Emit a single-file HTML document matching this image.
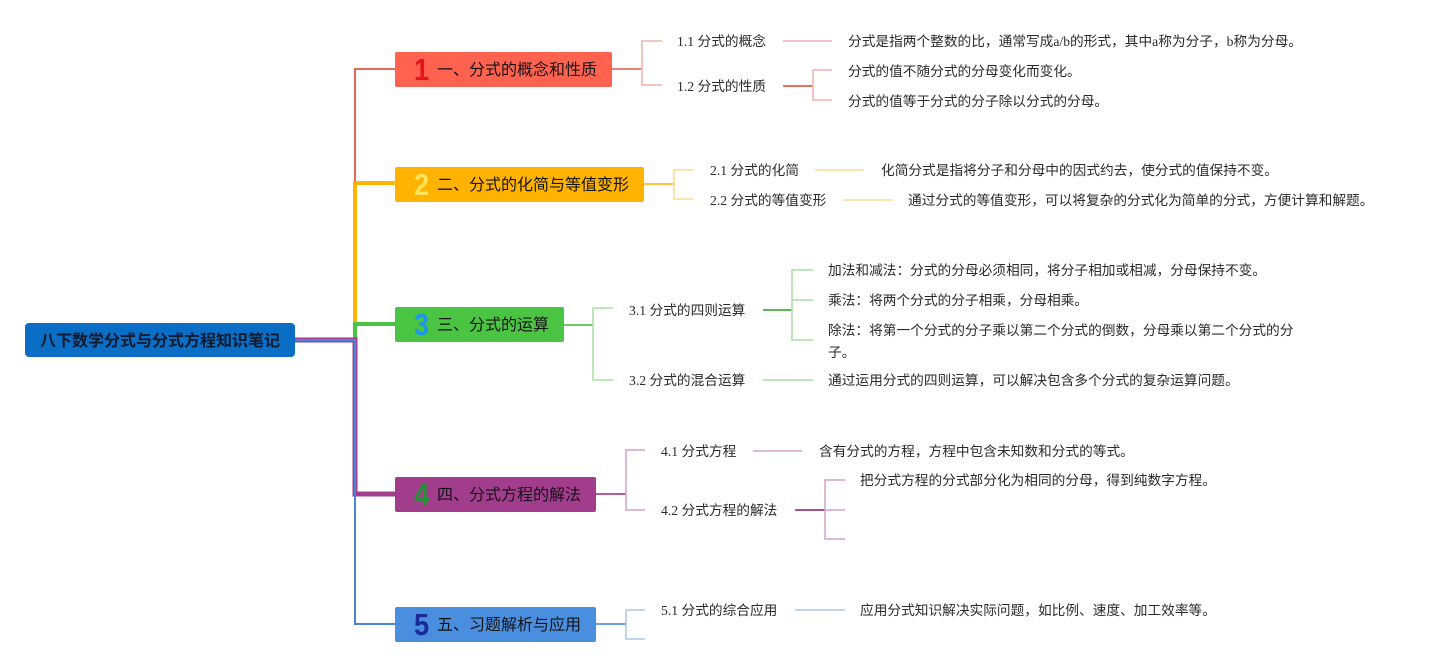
<!DOCTYPE html>
<html>
<head>
<meta charset="utf-8">
<style>
html,body{margin:0;padding:0;background:#fff;}
body{width:1444px;height:668px;position:relative;overflow:hidden;
font-family:"Liberation Sans","Noto Sans CJK SC",sans-serif;}
.box{position:absolute;border-radius:2px;}
.num{position:absolute;font-family:"Liberation Sans",sans-serif;font-weight:bold;font-size:31px;line-height:36px;height:36px;transform:scaleX(0.88);transform-origin:left center;}
.nt{position:absolute;font-size:16px;line-height:20px;color:#141414;white-space:nowrap;font-family:"Liberation Sans","Noto Sans CJK SC",sans-serif;}
.t{position:absolute;font-size:13.7px;line-height:20px;color:#2b2b2b;white-space:nowrap;font-family:"Liberation Serif","Noto Sans CJK SC",sans-serif;}
svg{position:absolute;left:0;top:0;}
</style>
</head>
<body>
<svg width="1444" height="668" viewBox="0 0 1444 668" fill="none">
  <!-- main connectors -->
  <path d="M295,340 H355 V69 H395" stroke="#E5685C" stroke-width="2"/>
  <path d="M295,340 H355 V183 H395" stroke="#FFB400" stroke-width="4"/>
  <path d="M295,340 H355 V324 H395" stroke="#4CC443" stroke-width="4"/>
  <path d="M295,340 H355 V494 H395" stroke="#A23C8C" stroke-width="5"/>
  <path d="M295,340 H355 V624 H395" stroke="#4A86D6" stroke-width="2"/>

  <!-- branch 1 -->
  <path d="M612,69 H642" stroke="#EB857B" stroke-width="2"/>
  <path d="M662,41 H642 V85 H662" stroke="#F4B0AA" stroke-width="1.5"/>
  <path d="M783,41 H832" stroke="#F4B0AA" stroke-width="1.5"/>
  <path d="M783,86 H813" stroke="#E86E62" stroke-width="2"/>
  <path d="M832,70 H813 V100 H832" stroke="#F4B0AA" stroke-width="1.5"/>

  <!-- branch 2 -->
  <path d="M644,184 H674" stroke="#FFC23A" stroke-width="2"/>
  <path d="M693,170 H674 V199 H693" stroke="#FBDB8E" stroke-width="1.5"/>
  <path d="M815,170 H864" stroke="#FBDB8E" stroke-width="1.5"/>
  <path d="M843,200 H893" stroke="#FBDB8E" stroke-width="1.5"/>

  <!-- branch 3 -->
  <path d="M564,325 H593" stroke="#6CCB62" stroke-width="2"/>
  <path d="M613,308 H593 V380 H613" stroke="#A9DFA2" stroke-width="1.5"/>
  <path d="M763,310 H792" stroke="#5CB852" stroke-width="2"/>
  <path d="M813,270 H792 V340 H813 M792,300 H813" stroke="#A9DFA2" stroke-width="1.5"/>
  <path d="M763,380 H813" stroke="#A9DFA2" stroke-width="1.5"/>

  <!-- branch 4 -->
  <path d="M596,494 H626" stroke="#B25C9E" stroke-width="2"/>
  <path d="M645,450 H626 V510 H645" stroke="#D3A2C8" stroke-width="1.5"/>
  <path d="M753,451 H802" stroke="#D3A2C8" stroke-width="1.5"/>
  <path d="M795,510 H825" stroke="#A8518F" stroke-width="2"/>
  <path d="M845,480 H825 V539 H845 M825,510 H845" stroke="#D3A2C8" stroke-width="1.5"/>

  <!-- branch 5 -->
  <path d="M596,624 H626" stroke="#6C9FDD" stroke-width="2"/>
  <path d="M645,610 H626 V639 H645" stroke="#A8C5E6" stroke-width="1.5"/>
  <path d="M795,610 H845" stroke="#A8C5E6" stroke-width="1.5"/>
</svg>

<!-- root -->
<div class="box" style="left:25px;top:323px;width:270px;height:34px;background:#0A6EC6;border-radius:4px;"></div>
<div class="nt" style="left:40px;top:332px;font-weight:bold;color:#0d1a2e;">八下数学分式与分式方程知识笔记</div>

<!-- node 1 -->
<div class="box" style="left:395px;top:52px;width:217px;height:35px;background:#FF6350;"></div>
<div class="num" style="left:414px;top:52px;color:#E3141E;">1</div>
<div class="nt" style="left:437px;top:61px;">一、分式的概念和性质</div>

<!-- node 2 -->
<div class="box" style="left:395px;top:167px;width:249px;height:35px;background:#FFB300;"></div>
<div class="num" style="left:414px;top:167px;color:#FFE35A;">2</div>
<div class="nt" style="left:437px;top:176px;">二、分式的化简与等值变形</div>

<!-- node 3 -->
<div class="box" style="left:395px;top:307px;width:169px;height:35px;background:#4CC443;"></div>
<div class="num" style="left:414px;top:307px;color:#1E96E6;">3</div>
<div class="nt" style="left:437px;top:316px;">三、分式的运算</div>

<!-- node 4 -->
<div class="box" style="left:395px;top:477px;width:201px;height:35px;background:#A23C8C;"></div>
<div class="num" style="left:414px;top:477px;color:#1B9A2E;">4</div>
<div class="nt" style="left:437px;top:486px;">四、分式方程的解法</div>

<!-- node 5 -->
<div class="box" style="left:395px;top:607px;width:201px;height:35px;background:#4A8EDF;"></div>
<div class="num" style="left:414px;top:607px;color:#1A2B99;">5</div>
<div class="nt" style="left:437px;top:616px;">五、习题解析与应用</div>

<!-- branch 1 texts -->
<div class="t" style="left:677px;top:32px;">1.1 分式的概念</div>
<div class="t" style="left:848px;top:32px;">分式是指两个整数的比，通常写成a/b的形式，其中a称为分子，b称为分母。</div>
<div class="t" style="left:677px;top:77px;">1.2 分式的性质</div>
<div class="t" style="left:848px;top:62px;">分式的值不随分式的分母变化而变化。</div>
<div class="t" style="left:848px;top:92px;">分式的值等于分式的分子除以分式的分母。</div>

<!-- branch 2 texts -->
<div class="t" style="left:710px;top:161px;">2.1 分式的化简</div>
<div class="t" style="left:881px;top:161px;">化简分式是指将分子和分母中的因式约去，使分式的值保持不变。</div>
<div class="t" style="left:710px;top:191px;">2.2 分式的等值变形</div>
<div class="t" style="left:908px;top:191px;">通过分式的等值变形，可以将复杂的分式化为简单的分式，方便计算和解题。</div>

<!-- branch 3 texts -->
<div class="t" style="left:629px;top:301px;">3.1 分式的四则运算</div>
<div class="t" style="left:828px;top:261px;">加法和减法：分式的分母必须相同，将分子相加或相减，分母保持不变。</div>
<div class="t" style="left:828px;top:291px;">乘法：将两个分式的分子相乘，分母相乘。</div>
<div class="t" style="left:828px;top:320px;line-height:22px;">除法：将第一个分式的分子乘以第二个分式的倒数，分母乘以第二个分式的分<br>子。</div>
<div class="t" style="left:629px;top:371px;">3.2 分式的混合运算</div>
<div class="t" style="left:828px;top:371px;">通过运用分式的四则运算，可以解决包含多个分式的复杂运算问题。</div>

<!-- branch 4 texts -->
<div class="t" style="left:661px;top:442px;">4.1 分式方程</div>
<div class="t" style="left:819px;top:442px;">含有分式的方程，方程中包含未知数和分式的等式。</div>
<div class="t" style="left:661px;top:501px;">4.2 分式方程的解法</div>
<div class="t" style="left:860px;top:471px;">把分式方程的分式部分化为相同的分母，得到纯数字方程。</div>

<!-- branch 5 texts -->
<div class="t" style="left:661px;top:601px;">5.1 分式的综合应用</div>
<div class="t" style="left:860px;top:601px;">应用分式知识解决实际问题，如比例、速度、加工效率等。</div>
</body>
</html>
